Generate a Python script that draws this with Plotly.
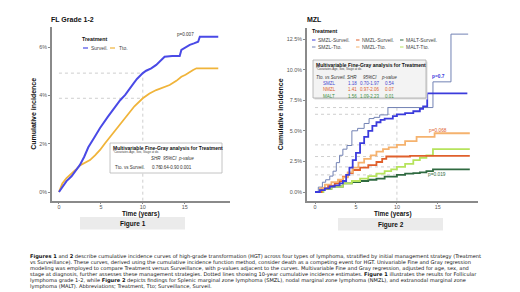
import plotly.graph_objects as go

W, H = 520, 292
OFF = 8  # default page body margin
FW, FH = W - OFF, H - OFF


def X(px):
    return (px - OFF) / FW


def Y(py):
    return 1 - (py - OFF) / FH


# ---------------- data: Figure 1 (FL Grade 1-2) ----------------
fl_surv_t = [0, 0.5, 0.9, 1.5, 2.0, 2.5, 3.0, 3.5, 4.2, 4.9, 5.8, 6.7, 7.3, 7.9, 8.4, 8.9,
             9.3, 9.7, 10.0, 10.4, 11.0, 11.6, 12.1, 12.6, 13.5, 14.4, 14.6, 15.1, 15.6,
             16.1, 16.6, 16.8, 19.0]
fl_surv_y = [0, 0.25, 0.45, 0.65, 0.87, 1.12, 1.45, 1.85, 2.25, 2.65, 3.10, 3.53, 3.80, 4.02,
             4.28, 4.50, 4.68, 4.82, 4.92, 5.02, 5.12, 5.26, 5.45, 5.60, 5.63, 5.63, 5.88,
             5.98, 6.09, 6.15, 6.22, 6.43, 6.43]
fl_tto_t = [0, 0.4, 0.9, 1.5, 2.0, 2.5, 3.0, 3.7, 4.3, 4.9, 5.5, 6.1, 7.0, 8.1, 9.0, 10.0,
            10.8, 11.6, 12.4, 13.2, 14.0, 14.6, 15.1, 15.6, 16.0, 16.4, 19.0]
fl_tto_y = [0, 0.35, 0.58, 0.75, 0.92, 1.10, 1.20, 1.32, 1.52, 1.74, 2.02, 2.29, 2.70, 3.19,
            3.55, 3.88, 4.08, 4.22, 4.32, 4.43, 4.60, 4.77, 4.85, 4.98, 5.05, 5.12, 5.12]
fl_pvalue = "p=0.007"
fl_table_header = ["SHR", "95%CI", "p-value"]
fl_table_row = ["Tto. vs Surveil.", "0.76", "0.64-0.90", "0.001"]

# ---------------- data: Figure 2 (MZL) ----------------
smzl_surv_t = [0, 0.6, 1.2, 1.8, 2.4, 3.0, 3.4, 3.8, 4.2, 4.6, 5.0, 5.5, 6.0, 6.5, 7.0, 7.5,
               8.0, 8.5, 9.5, 10.0, 11.0, 12.0, 12.8, 13.2, 13.7, 18.6]
smzl_surv_y = [0, 0.15, 0.3, 0.45, 0.55, 0.7, 0.9, 1.4, 2.0, 2.6, 3.2, 4.0, 4.5, 5.0, 5.4,
               5.7, 5.9, 6.0, 6.2, 6.35, 6.45, 6.6, 6.8, 7.0, 8.06, 8.06]
smzl_tto_t = [0, 0.4, 0.9, 1.3, 1.8, 2.2, 2.6, 3.0, 3.4, 3.9, 4.5, 5.2, 6.0, 6.6, 7.2, 7.9,
              8.9, 14.4, 16.6, 18.7]
smzl_tto_y = [0, 0.4, 0.8, 1.0, 1.3, 1.7, 2.4, 3.0, 3.5, 3.8, 5.0, 5.2, 5.6, 6.0, 6.1, 6.3,
              6.9, 9.0, 12.9, 12.9]
nmzl_surv_t = [0, 0.8, 1.6, 2.4, 3.0, 3.4, 4.0, 4.6, 5.5, 6.5, 7.5, 8.2, 8.7, 10.0, 11.6,
               13.0, 18.9]
nmzl_surv_y = [0, 0.3, 0.5, 0.7, 0.9, 1.25, 1.55, 1.8, 2.0, 2.2, 2.45, 2.7, 2.9, 2.9, 2.95,
               2.95, 2.95]
nmzl_tto_t = [0, 0.6, 1.2, 2.0, 2.8, 3.4, 4.0, 4.6, 5.3, 6.0, 6.8, 7.5, 8.3, 9.0, 10.0, 11.0,
              12.4, 13.0, 14.6, 18.9]
nmzl_tto_y = [0, 0.3, 0.6, 0.8, 1.0, 1.2, 1.6, 2.0, 2.4, 2.7, 3.0, 3.3, 3.5, 3.65, 3.85,
              4.15, 4.5, 4.5, 4.8, 4.8]
malt_surv_t = [0, 1.0, 2.0, 3.4, 4.5, 5.5, 6.5, 7.5, 8.5, 10.0, 11.0, 12.0, 12.8, 13.6, 14.4,
               18.9]
malt_surv_y = [0, 0.25, 0.45, 0.7, 0.8, 0.9, 1.0, 1.1, 1.25, 1.4, 1.5, 1.55, 1.6, 1.7, 1.85,
               1.85]
malt_tto_t = [0, 1.0, 2.0, 3.4, 4.5, 5.5, 6.5, 7.5, 8.5, 9.3, 10.0, 11.0, 12.0, 12.8, 13.6,
              14.4, 18.9]
malt_tto_y = [0, 0.25, 0.45, 0.7, 0.9, 1.1, 1.3, 1.5, 1.7, 1.85, 2.05, 2.3, 2.6, 2.8, 3.0,
              3.5, 3.5]
mzl_pvalues = ["p=0.7", "p=0.068", "p=0.019"]
mzl_table_header = ["Tto. vs Surveil.", "SHR", "95%CI", "p-value"]
mzl_table_rows = [["SMZL", "1.18", "0.70-1.97", "0.54"],
                  ["NMZL", "1.41", "0.97-2.06", "0.07"],
                  ["MALT", "1.56", "1.09-2.23", "0.01"]]

caption_lines = [
    "<b>Figures 1</b> and <b>2</b> describe cumulative incidence curves of high-grade transformation (HGT) across four types of lymphoma, stratified by initial management strategy (Treatment",
    "vs Surveillance). These curves, derived using the cumulative incidence function method, consider death as a competing event for HGT. Univariable Fine and Gray regression",
    "modeling was employed to compare Treatment versus Surveillance, with p-values adjacent to the curves. Multivariable Fine and Gray regression, adjusted for age, sex, and",
    "stage at diagnosis, further assesses these management strategies. Dotted lines showing 10-year cumulative incidence estimates. <b>Figure 1</b> illustrates the results for Follicular",
    "lymphoma grade 1-2, while <b>Figure 2</b> depicts findings for Splenic marginal zone lymphoma (SMZL), nodal marginal zone lymphoma (NMZL), and extranodal marginal zone",
    "lymphoma (MALT). Abbreviations; Treatment, Tto; Surveillance, Surveil.",
]

# ---------------- styles ----------------
C_BLUE = "#4a4ae6"
C_GOLD = "#f0b43a"
C_SMZL_S = "#3b3bdc"
C_SMZL_T = "#7282b4"
C_NMZL_S = "#e0602c"
C_NMZL_T = "#f5b26e"
C_MALT_S = "#2f6a40"
C_MALT_T = "#b6e35c"
REF = "#c8c8c8"


def value_at(ts, ys, t):
    v = ys[0]
    for a, b in zip(ts, ys):
        if a <= t:
            v = b
    return v


fig = go.Figure()

# Figure 1 traces
fig.add_trace(go.Scatter(x=fl_tto_t, y=fl_tto_y, mode="lines", name="Tto.",
                         line=dict(color=C_GOLD, width=1.8), xaxis="x", yaxis="y",
                         showlegend=False))
fig.add_trace(go.Scatter(x=fl_surv_t, y=fl_surv_y, mode="lines", name="Surveil.",
                         line=dict(color=C_BLUE, width=2.0), xaxis="x", yaxis="y",
                         showlegend=False))

# Figure 2 traces
mzl_series = [
    ("SMZL-Tto.", smzl_tto_t, smzl_tto_y, C_SMZL_T, 1.0),
    ("MALT-Surveil.", malt_surv_t, malt_surv_y, C_MALT_S, 1.8),
    ("MALT-Tto.", malt_tto_t, malt_tto_y, C_MALT_T, 1.8),
    ("NMZL-Surveil.", nmzl_surv_t, nmzl_surv_y, C_NMZL_S, 1.8),
    ("NMZL-Tto.", nmzl_tto_t, nmzl_tto_y, C_NMZL_T, 1.8),
    ("SMZL-Surveil.", smzl_surv_t, smzl_surv_y, C_SMZL_S, 1.8),
]
for name, ts, ys, col, w in mzl_series:
    fig.add_trace(go.Scatter(x=ts, y=ys, mode="lines", name=name, line_shape="hv",
                             line=dict(color=col, width=w), xaxis="x2", yaxis="y2",
                             showlegend=False))

shapes = []
ann = []

# 10-year reference lines (dotted)
L_YMIN, R_YMIN = -0.36, -0.71
fl10 = [value_at(fl_surv_t, fl_surv_y, 10), value_at(fl_tto_t, fl_tto_y, 10)]
for v in fl10:
    shapes.append(dict(type="line", xref="x", yref="y", x0=0, x1=10, y0=v, y1=v,
                       line=dict(color=REF, width=0.9, dash="dot"), layer="below"))
shapes.append(dict(type="line", xref="x", yref="y", x0=10, x1=10, y0=L_YMIN, y1=max(fl10),
                   line=dict(color=REF, width=0.9, dash="dot"), layer="below"))
mzl10 = [value_at(ts, ys, 10) for _, ts, ys, _, _ in mzl_series]
for v in mzl10:
    shapes.append(dict(type="line", xref="x2", yref="y2", x0=0, x1=10, y0=v, y1=v,
                       line=dict(color=REF, width=0.9, dash="dot"), layer="below"))
shapes.append(dict(type="line", xref="x2", yref="y2", x0=10, x1=10, y0=R_YMIN, y1=max(mzl10),
                   line=dict(color=REF, width=0.9, dash="dot"), layer="below"))


def text(px, py, s, size=5, color="#222", xanchor="left", family=None, **kw):
    f = dict(size=size, color=color)
    if family:
        f["family"] = family
    ann.append(dict(x=X(px), y=Y(py), xref="paper", yref="paper", text=s, showarrow=False,
                    xanchor=xanchor, yanchor="middle", font=f, borderpad=0, **kw))


def hline(px0, px1, py, color, width=1.2):
    shapes.append(dict(type="line", xref="paper", yref="paper", x0=X(px0), x1=X(px1),
                       y0=Y(py), y1=Y(py), line=dict(color=color, width=width)))


def rect(px0, py0, px1, py1, fill, line, width=0.8):
    shapes.append(dict(type="rect", xref="paper", yref="paper", x0=X(px0), x1=X(px1),
                       y0=Y(py1), y1=Y(py0), fillcolor=fill,
                       line=dict(color=line, width=width)))


# Titles
text(50, 20, "<b>FL Grade 1-2</b>", size=7, color="#111")
text(306, 20, "<b>MZL</b>", size=7, color="#111")

# Figure labels (boxes drawn first so the axis titles sit above them)
rect(80, 217, 185, 229.5, "#ebebeb", "#ebebeb", 0)
rect(338, 218, 443, 230.5, "#ebebeb", "#ebebeb", 0)

# x-axis titles
text(141, 214.2, "<b>Time (years)</b>", size=6.4, color="#111", xanchor="center")
text(392.5, 214.2, "<b>Time (years)</b>", size=6.4, color="#111", xanchor="center")

# Figure 1 legend
text(81, 39, "<b>Treatment</b>", size=5.3, color="#111")
hline(83, 88, 48, C_BLUE)
text(90, 48, "Surveil.", size=5, color="#444")
hline(110, 115, 48, C_GOLD)
text(118, 48, "Tto.", size=5, color="#444")

# Figure 1 p-value
text(185, 35, fl_pvalue, size=4.6, color="#333", xanchor="center")

# Figure 1 table box
rect(110, 143, 222, 173, "rgba(255,255,255,0.95)", "#b5b5b5")
text(111.5, 147.5, "<b>Multivariable Fine-Gray analysis for Treatment</b>", size=5.0, color="#111")
text(112, 152, "*Covariates Age, Sex, Stage at dx.", size=3.0, color="#444")
text(156, 158.5, "<i>" + fl_table_header[0] + "</i>", size=4.5, color="#333", xanchor="center")
text(170, 158.5, "<i>" + fl_table_header[1] + "</i>", size=4.5, color="#333", xanchor="center")
text(186, 158.5, "<i>" + fl_table_header[2] + "</i>", size=4.5, color="#333", xanchor="center")
text(114, 167, fl_table_row[0], size=4.5, color="#333")
text(156, 167, fl_table_row[1], size=4.5, color="#333", xanchor="center")
text(170, 167, fl_table_row[2], size=4.5, color="#333", xanchor="center")
text(186, 167, fl_table_row[3], size=4.5, color="#333", xanchor="center")

# Figure 2 legend
text(311, 31, "<b>Treatment</b>", size=5.3, color="#111")
leg_items = [
    ("SMZL-Surveil.", C_SMZL_S, 312, 40), ("NMZL-Surveil.", C_NMZL_S, 356, 40),
    ("MALT-Surveil.", C_MALT_S, 400, 40),
    ("SMZL-Tto.", C_SMZL_T, 312, 47), ("NMZL-Tto.", C_NMZL_T, 356, 47),
    ("MALT-Tto.", C_MALT_T, 400, 47),
]
for name, col, lx, ly in leg_items:
    hline(lx, lx + 3.5, ly, col, 1.0)
    text(lx + 5, ly, name, size=5, color="#444")

# Figure 2 table box (shadow + box)
rect(314.5, 61.5, 427.5, 99.5, "#dcdcdc", "#dcdcdc", 0)
rect(313, 60, 426, 98, "#f3f3f3", "#a8a8a8")
text(314.5, 64.5, "<b>Multivariable Fine-Gray analysis for Treatment</b>", size=5.0, color="#111")
text(315, 69, "*Covariates Age, Sex, Stage at dx.", size=3.0, color="#444")
text(315, 77, "<i>" + mzl_table_header[0] + "</i>", size=4.5, color="#333")
text(352, 77, "<i>" + mzl_table_header[1] + "</i>", size=4.5, color="#333", xanchor="center")
text(370, 77, "<i>" + mzl_table_header[2] + "</i>", size=4.5, color="#333", xanchor="center")
text(389, 77, "<i>" + mzl_table_header[3] + "</i>", size=4.5, color="#333", xanchor="center")
row_cols = ["#4646d0", "#e0602c", "#3f8f45"]
for i, (row, col) in enumerate(zip(mzl_table_rows, row_cols)):
    ry = 83.5 + i * 6.4
    text(329, ry, row[0], size=4.5, color=col, xanchor="center")
    text(352, ry, row[1], size=4.5, color=col, xanchor="center")
    text(370, ry, row[2], size=4.5, color=col, xanchor="center")
    text(389, ry, row[3], size=4.5, color=col, xanchor="center")

# Figure 2 p-values
text(438, 76, "<b>" + mzl_pvalues[0] + "</b>", size=4.8, color=C_SMZL_S, xanchor="center")
text(438, 130, mzl_pvalues[1], size=4.8, color=C_NMZL_S, xanchor="center")
text(437, 174, mzl_pvalues[2], size=4.8, color=C_MALT_S, xanchor="center")

# Figure label texts
text(132.5, 224.0, "<b>Figure 1</b>", size=6.5, color="#111", xanchor="center")
text(390.5, 225.0, "<b>Figure 2</b>", size=6.5, color="#111", xanchor="center")

# Caption (one annotation per line, wide font to approach the justified width)
for i, line in enumerate(caption_lines):
    text(29, 256.5 + i * 6.0, line, size=5.1, color="#111", family="DejaVu Sans")

axis_common = dict(showline=True, linecolor="#8a8a8a", linewidth=1.5, ticks="outside",
                   ticklen=2, tickwidth=1, tickcolor="#8a8a8a", showgrid=False,
                   zeroline=False, tickfont=dict(size=5.4, color="#555"))

fig.update_layout(
    width=FW, height=FH, margin=dict(l=0, r=0, t=0, b=0),
    paper_bgcolor="white", plot_bgcolor="white",
    font=dict(family="Liberation Sans, Arial, sans-serif", size=6, color="#222"),
    showlegend=False,
    xaxis=dict(domain=[X(52), X(230)], range=[-0.83, 20.4], anchor="y",
               tickvals=[0, 5, 10, 15], ticklabelstandoff=-2, **axis_common),
    yaxis=dict(domain=[Y(200.7), Y(27)], range=[L_YMIN, 6.83], anchor="x",
               tickvals=[0, 2, 4, 6], ticktext=["0%", "2%", "4%", "6%"],
               title=dict(text="<b>Cumulative incidence</b>", font=dict(size=7, color="#111"),
                          standoff=2), **axis_common),
    xaxis2=dict(domain=[X(307), X(478)], range=[-0.98, 19.9], anchor="y2",
                tickvals=[0, 5, 10, 15], ticklabelstandoff=-2, **axis_common),
    yaxis2=dict(domain=[Y(200.7), Y(28)], range=[R_YMIN, 13.4], anchor="x2",
                tickvals=[0, 2.5, 5, 7.5, 10, 12.5],
                ticktext=["0.0%", "2.5%", "5.0%", "7.5%", "10.0%", "12.5%"],
                title=dict(text="<b>Cumulative incidence</b>", font=dict(size=7, color="#111"),
                           standoff=2), **axis_common),
    shapes=shapes, annotations=ann,
)

fig.write_html("out.html")
